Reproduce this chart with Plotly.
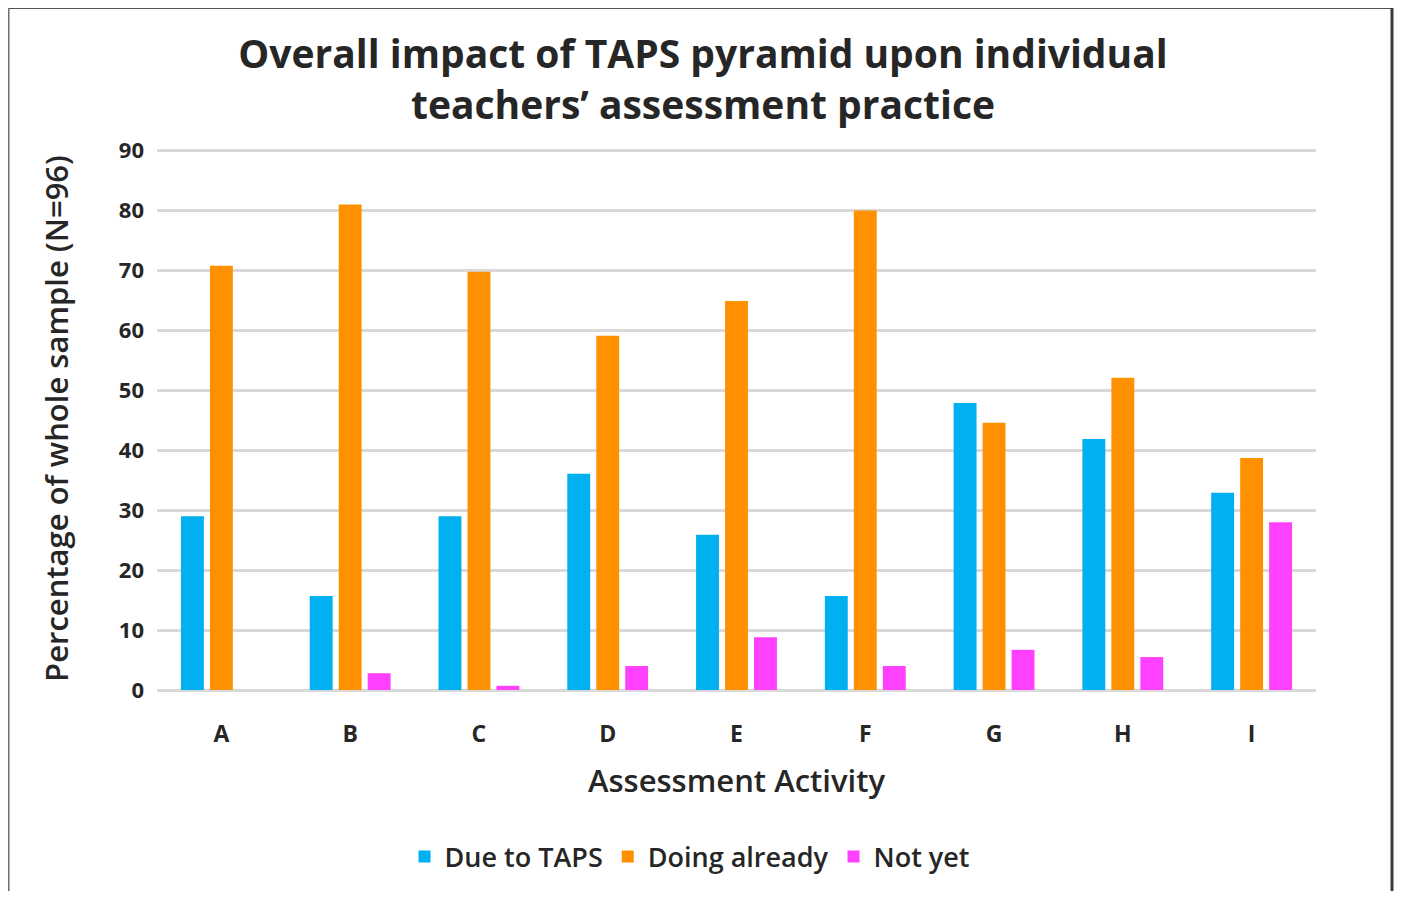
import plotly.graph_objects as go

categories = ["A", "B", "C", "D", "E", "F", "G", "H", "I"]
due_to_taps = [29.0, 15.7, 29.0, 36.1, 25.9, 15.7, 47.9, 41.9, 32.9]
doing_already = [70.8, 81.0, 69.8, 59.1, 64.9, 80.0, 44.6, 52.1, 38.7]
not_yet = [0.0, 2.8, 0.7, 4.0, 8.8, 4.0, 6.7, 5.5, 28.0]
y_ticks = [0, 10, 20, 30, 40, 50, 60, 70, 80, 90]

series = [
    ("Due to TAPS", due_to_taps, "#00B0F0"),
    ("Doing already", doing_already, "#FF9100"),
    ("Not yet", not_yet, "#FF40FF"),
]

FONT = "Open Sans"
TXT = "#262626"
OFF = 8  # page body margin
W, H = 1402 - OFF, 899 - 2 * OFF
# plot area in reference-screen pixels
L, R, B = 157 - OFF, 1316 - OFF, 690 - OFF
Y90 = 151 - OFF
YMAX = 90.6
T = B - (B - Y90) * YMAX / 90
RIGHT_EDGE = 1392

fig = go.Figure()
for name, vals, col in series:
    fig.add_trace(go.Bar(x=categories, y=vals, name=name, marker=dict(color=col, line=dict(width=0))))

pw, ph = R - L, B - T
def px_x(p):
    return (p - OFF - L) / pw
def px_y(p):
    return (B - (p - OFF)) / ph

fig.update_layout(
    width=W, height=H,
    margin=dict(l=L, r=W - R, t=T, b=H - B, autoexpand=False),
    paper_bgcolor="white", plot_bgcolor="white",
    barmode="group", bargap=0.325, bargroupgap=0.21,
    font=dict(family=FONT, color=TXT),
    title=dict(
        text="Overall impact of TAPS pyramid upon individual<br>teachers’ assessment practice",
        font=dict(family=FONT, size=39, color=TXT, weight=700),
        x=(703 - OFF) / W, xanchor="center", xref="container",
        y=1 - 60 / H, yanchor="middle", yref="container",
    ),
    xaxis=dict(
        showgrid=False, showline=False, ticks="",
        tickfont=dict(size=23, color=TXT, weight=700),
        ticklabelstandoff=28,
        title=dict(text="Assessment Activity", font=dict(size=31, color=TXT, weight=600), standoff=22),
    ),
    yaxis=dict(
        range=[0, YMAX], tickvals=y_ticks, showgrid=True, gridcolor="#D9D9D9", gridwidth=3,
        zeroline=True, zerolinecolor="#D9D9D9", zerolinewidth=3, showline=False, ticks="",
        tickfont=dict(size=22, color=TXT, weight=700),
        ticklabelstandoff=12,
        title=dict(text="Percentage of whole sample (N=96)", font=dict(size=31, color=TXT, weight=600), standoff=40),
    ),
    legend=dict(
        orientation="h", x=(690 - OFF) / W, xanchor="center", xref="container",
        y=1 - (857 - OFF) / H, yanchor="middle", yref="container",
        font=dict(size=27, color=TXT, weight=600), itemwidth=30,
        bgcolor="rgba(0,0,0,0)",
    ),
    showlegend=True,
)

# chart frame
fig.add_shape(type="line", xref="paper", yref="paper",
              x0=px_x(8.75), x1=px_x(8.75), y0=px_y(8.75), y1=px_y(920),
              line=dict(color="#6E6E6E", width=1.5))
fig.add_shape(type="line", xref="paper", yref="paper",
              x0=px_x(8.75), x1=px_x(RIGHT_EDGE), y0=px_y(8.75), y1=px_y(8.75),
              line=dict(color="#555555", width=1.5))
fig.add_shape(type="line", xref="paper", yref="paper",
              x0=px_x(RIGHT_EDGE), x1=px_x(RIGHT_EDGE), y0=px_y(8), y1=px_y(920),
              line=dict(color="#3A3A3A", width=3))

fig.write_html("out.html")
